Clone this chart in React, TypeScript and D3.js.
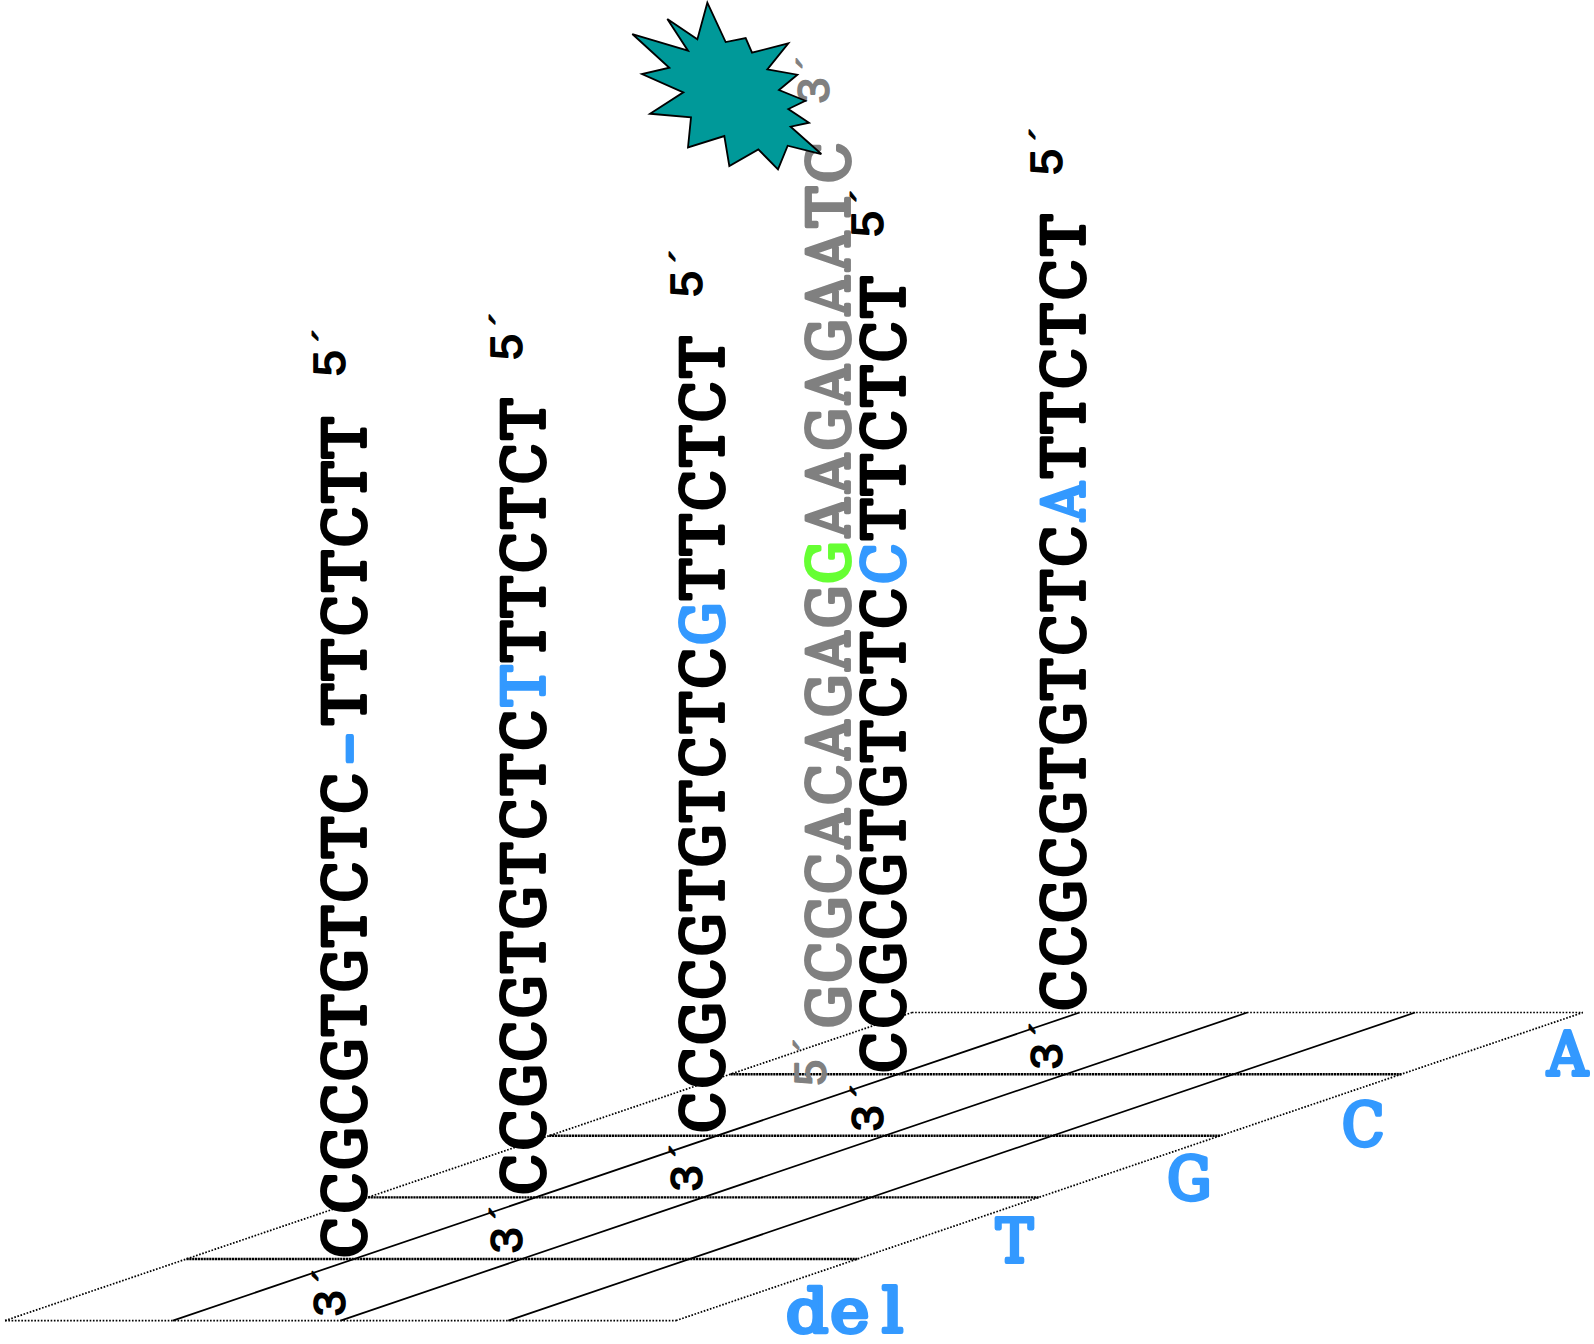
import React from "react";
import * as d3 from "d3";

const W = 1594, H = 1344;
const VW = 1568, VH = 1322;
const FONT = "'DejaVu Serif', serif";
const MONO = "'Liberation Mono', monospace";
const BLACK = "#000000", GREY = "#808080", BLUE = "#3399ff", GREEN = "#66ff33", TEAL = "#009999";

const rowLabels = ["del", "T", "G", "C", "A"];
const rowLevels = [0, 1, 2, 3, 4, 5];
const colLevels = [0, 1, 2, 3, 4];

type Seg = { t: string; c: string };
const seqDel: Seg[] = [{ t: "CCGCGTGTCTC", c: BLACK }, { t: "-", c: BLUE }, { t: "TTCTCTT", c: BLACK }];
const seqT: Seg[] = [{ t: "CCGCGTGTCTC", c: BLACK }, { t: "T", c: BLUE }, { t: "TTCTCT", c: BLACK }];
const seqG: Seg[] = [{ t: "CCGCGTGTCTC", c: BLACK }, { t: "G", c: BLUE }, { t: "TTCTCT", c: BLACK }];
const seqC: Seg[] = [{ t: "CCGCGTGTCTC", c: BLACK }, { t: "C", c: BLUE }, { t: "TTCTCT", c: BLACK }];
const seqA: Seg[] = [{ t: "CCGCGTGTCTC", c: BLACK }, { t: "A", c: BLUE }, { t: "TTCTCT", c: BLACK }];
const seqProbe: Seg[] = [{ t: "GCGCACAGAG", c: GREY }, { t: "G", c: GREEN }, { t: "AAGAGAATC", c: GREY }];

const strandSeqs = [seqDel, seqT, seqG, seqC, seqA];

const starRaw = [
  [322, 8], [377, 126], [437, 114], [456, 158], [565, 130], [502, 208], [592, 224], [537, 270], [616, 302], [565, 327],
  [627, 368], [572, 380], [664, 462], [563, 437], [534, 508], [475, 448], [388, 498], [373, 408], [264, 442], [273, 352],
  [150, 341], [250, 277], [126, 222], [208, 203], [97, 102], [264, 152], [202, 57], [292, 118],
];
const PAGE = VW / W;
const starPts = starRaw.map(([x, y]) => [(600 + x / 3) * PAGE, (y / 3) * PAGE]);

const yRow = d3.scaleLinear().domain([0, 5]).range([1299, 996]);
const xSkew = d3.scaleLinear().domain([0, 5]).range([0, 892]);
const xCol = d3.scaleLinear().domain([0, 4]).range([5, 665]);

const glyphScale = (ch: string) => (ch === "-" ? 1.6 : ch === "T" ? 1.02 : ch === "A" ? 0.9 : 0.92);

function Vert({ x, y, size, segs, adv }: { x: number; y: number; size: number; segs: Seg[]; adv: number }) {
  let n = 0;
  return (
    <g transform={`translate(${x},${y}) rotate(-90)`} fontFamily={FONT} fontSize={size} textAnchor="middle" strokeLinejoin="round">
      {segs.map((s, i) => {
        const el = s.t.split("").map((ch, j) => (
          <text key={`${i}-${j}`} transform={`translate(${(n + j + 0.5) * adv},0) scale(${glyphScale(ch)},1)`}
            fill={s.c} stroke={s.c} strokeWidth={3.8}>{ch}</text>
        ));
        n += s.t.length;
        return el;
      })}
    </g>
  );
}

function Prime({ x, y, txt, c }: { x: number; y: number; txt: string; c: string }) {
  return (
    <g fontFamily={MONO} fontSize={46} fill={c} stroke={c} strokeLinejoin="round">
      <text transform={`translate(${x},${y}) rotate(-90)`} strokeWidth={1.6}>{txt}</text>
      <text transform={`translate(${x},${y - 27}) rotate(-90)`} strokeWidth={0.8}>´</text>
    </g>
  );
}

export default function App() {
  const advance = 43.7;
  const size = 57;
  const baseX = [358, 537, 713, 890, 1068];
  const shiftX = [1, -2, -2, -1, -2];
  const baseY = [1237, 1175, 1114, 1055, 994];
  const digitX = [339, 513, 691, 869, 1045];
  const topY = [371, 355, 293, 234, 173];
  const labelPos = [[773, 1310], [977, 1241], [1149, 1180], [1320, 1127], [1521, 1057]];
  return (
    <svg width={W} height={H} viewBox={`0 0 ${VW} ${VH}`} style={{ position: "absolute", left: 0, top: 0, background: "#fff" }}>
      {rowLevels.map((r) => {
        const outer = r === 0 || r === 5;
        return (
          <line key={`r${r}`} x1={5 + xSkew(r)} x2={665 + xSkew(r)} y1={yRow(r)} y2={yRow(r)}
            stroke="#000" strokeWidth={outer ? 1.6 : 2.4} strokeDasharray={outer ? "1.6 1.6" : "2.2 0.6"} />
        );
      })}
      {colLevels.map((c) => {
        const dotted = c === 0 || c === 4;
        const x0 = xCol(c);
        return (
          <line key={`c${c}`} x1={x0} x2={x0 + xSkew(5)} y1={yRow(0)} y2={yRow(5)}
            stroke="#000" strokeWidth={1.7} strokeDasharray={dotted ? "1.6 1.6" : undefined} />
        );
      })}
      {strandSeqs.map((s, i) => (
        <g key={i}>
          <Vert x={baseX[i] + shiftX[i]} y={baseY[i] + 2} size={size} segs={s} adv={advance} />
          <Prime x={digitX[i]} y={baseY[i] + 59} txt="3" c={BLACK} />
          <Prime x={digitX[i]} y={topY[i]} txt="5" c={BLACK} />
        </g>
      ))}
      <Vert x={835} y={1012} size={size} segs={seqProbe} adv={advance} />
      <Prime x={813} y={1069} txt="5" c={GREY} />
      <Prime x={815} y={103} txt="3" c={GREY} />
      <path d={`M${starPts.map((p) => p.join(",")).join("L")}Z`} fill={TEAL} stroke="#000" strokeWidth={1.8} />
      {rowLabels.map((l, i) => (
        <g key={l} fontFamily={FONT} fontSize={58} fill={BLUE} stroke={BLUE} strokeWidth={4} strokeLinejoin="round" textAnchor="middle">
          {l.split("").map((ch, j) => (
            <text key={j} transform={`translate(${labelPos[i][0] + 21 + j * 42},${labelPos[i][1]}) scale(${l === "del" ? 1.12 : 0.94},1)`}>{ch}</text>
          ))}
        </g>
      ))}
    </svg>
  );
}
